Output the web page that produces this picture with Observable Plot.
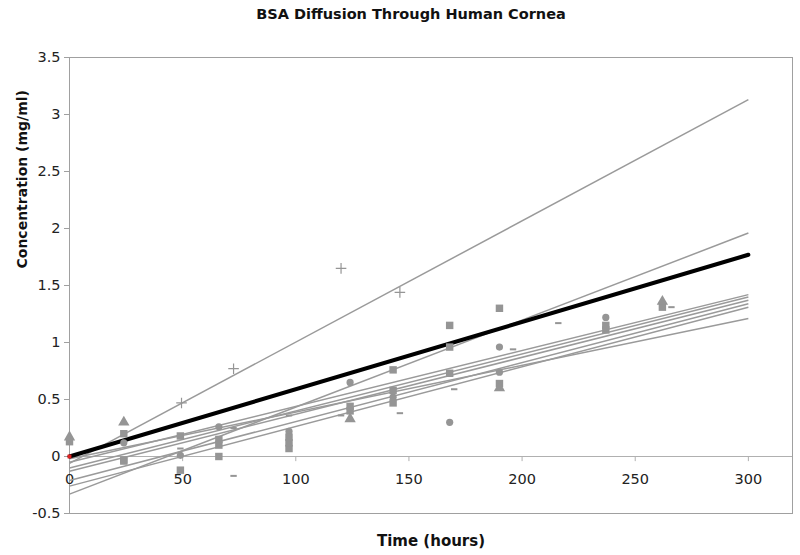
<!DOCTYPE html>
<html><head><meta charset="utf-8">
<script src="https://cdn.jsdelivr.net/npm/d3@7"></script>
<script src="https://cdn.jsdelivr.net/npm/@observablehq/plot@0.6"></script>
<style>body{margin:0;background:#fff}</style>
</head><body><div id="chart"></div>
<script>
const title = "BSA Diffusion Through Human Cornea";
const xLabel = "Time (hours)";
const yLabel = "Concentration (mg/ml)";
const xTicks = [0, 50, 100, 150, 200, 250, 300];
const yTicks = [-0.5, 0, 0.5, 1, 1.5, 2, 2.5, 3, 3.5];

// individual cornea samples (time in hours, concentration in mg/ml)
const s1Time = [0, 24, 49, 66, 97, 124, 168, 190, 237];
const s1Conc = [0.15, 0.12, 0.01, 0.26, 0.22, 0.65, 0.30, 0.96, 1.22];
const s2Time = [0, 24, 49, 66, 97, 124, 143, 168, 190];
const s2Conc = [0.13, 0.20, 0.18, 0.15, 0.17, 0.44, 0.76, 1.15, 1.30];
const s3Time = [24, 49, 66, 97, 124, 143, 168, 190, 237, 262];
const s3Conc = [-0.04, -0.12, 0.0, 0.07, 0.40, 0.58, 0.96, 0.64, 1.15, 1.31];
const s4Time = [24, 66, 97, 143, 168, 237];
const s4Conc = [-0.03, 0.10, 0.12, 0.47, 0.73, 1.11];
const s5Time = [0, 24, 124, 190, 262];
const s5Conc = [0.17, 0.30, 0.33, 0.60, 1.36];
const s6Time = [49.5, 72.5, 120, 146];
const s6Conc = [0.47, 0.77, 1.65, 1.44];
const s7Time = [49, 72.5, 97, 146, 170, 196, 266];
const s7Conc = [0.07, 0.25, 0.36, 0.38, 0.59, 0.94, 1.31];
const s8Time = [72.5, 120, 216];
const s8Conc = [-0.17, 0.36, 1.17];
const s9Time = [143, 190];
const s9Conc = [0.52, 0.74];
const seriesShapes = ["circle", "square", "square", "square", "triangle", "plus", "dash", "dash", "circle"];

// linear fits of each sample: value at start and end of the fit range
const fitRange = [0, 300];
const fitStart = [-0.06, -0.33, -0.02, -0.05, -0.10, -0.13, -0.21, -0.26];
const fitEnd = [3.13, 1.96, 1.21, 1.42, 1.40, 1.37, 1.34, 1.31];

// average fit
const meanTime = [0, 300];
const meanConc = [0, 1.77];

const times = [s1Time, s2Time, s3Time, s4Time, s5Time, s6Time, s7Time, s8Time, s9Time];
const concs = [s1Conc, s2Conc, s3Conc, s4Conc, s5Conc, s6Conc, s7Conc, s8Conc, s9Conc];
const points = [];
times.forEach((ts, i) => ts.forEach((t, j) => points.push({t, c: concs[i][j], shape: seriesShapes[i]})));
const fits = fitStart.map((s, i) => ({x1: fitRange[0], x2: fitRange[1], y1: s, y2: fitEnd[i]}));
const mean = meanTime.map((t, i) => ({t, c: meanConc[i]}));

const dashSymbol = {draw(ctx, size) { const w = Math.sqrt(size) * 0.45; ctx.rect(-w, -1, 2 * w, 2); }};
const gray = "#959595";

const chart = Plot.plot({
  width: 800, height: 555,
  marginTop: 57, marginBottom: 42, marginLeft: 69, marginRight: 8,
  x: {domain: [0, 319.5], axis: null},
  y: {domain: [-0.5, 3.5], axis: null},
  style: {fontFamily: "DejaVu Sans, Verdana, sans-serif", background: "white"},
  marks: [
    Plot.frame({stroke: "#a0a0a0"}),
    Plot.ruleY([0], {stroke: "#b0b0b0"}),
    Plot.ruleX(xTicks, {x: d => d, y1: 0, y2: -0.045, stroke: "#b0b0b0"}),
    Plot.axisY({ticks: yTicks, tickFormat: d => String(d), tickSize: 5, tickPadding: 4, fontSize: 14.5, label: null, stroke: "#a0a0a0", fill: "#222"}),
    Plot.text(xTicks, {x: d => d, y: 0, dy: 23, text: d => String(d), fontSize: 14.5, fill: "#222"}),
    Plot.link(fits, {x1: "x1", x2: "x2", y1: "y1", y2: "y2", stroke: "#9a9a9a", strokeWidth: 1.5}),
    Plot.line(mean, {x: "t", y: "c", stroke: "black", strokeWidth: 4}),
    Plot.dot(points.filter(d => d.shape === "circle"), {x: "t", y: "c", symbol: "circle", r: 3.6, fill: gray}),
    Plot.dot(points.filter(d => d.shape === "square"), {x: "t", y: "c", symbol: "square", r: 4.2, fill: gray}),
    Plot.dot(points.filter(d => d.shape === "triangle"), {x: "t", y: "c", symbol: "triangle", r: 4.2, fill: gray}),
    Plot.dot(points.filter(d => d.shape === "plus"), {x: "t", y: "c", symbol: "plus", r: 3.5, stroke: gray, strokeWidth: 1.2, fill: "none"}),
    Plot.dot(points.filter(d => d.shape === "dash"), {x: "t", y: "c", symbol: dashSymbol, r: 4, fill: gray}),
    Plot.dot(mean.slice(0, 1), {x: "t", y: "c", symbol: "square", r: 2.2, fill: "#e02020"}),
    Plot.text([title], {frameAnchor: "top", dx: -20, dy: -49, fontWeight: "bold", fontSize: 14.5, fill: "#111"}),
    Plot.text([yLabel], {frameAnchor: "left", rotate: -90, dx: -47, dy: -17, fontWeight: "bold", fontSize: 14, fill: "#111"}),
    Plot.text([xLabel], {frameAnchor: "bottom", dy: 32, fontWeight: "bold", fontSize: 15, fill: "#111"})
  ]
});
document.getElementById("chart").appendChild(chart);
</script>
</body></html>
